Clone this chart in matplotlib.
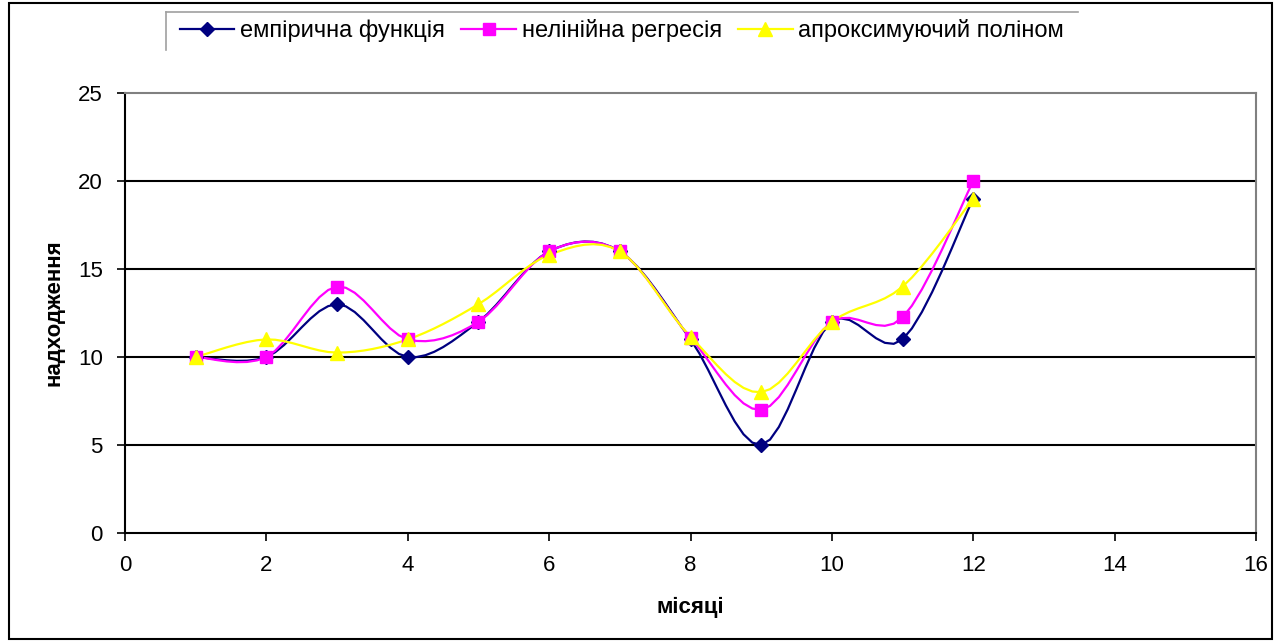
import matplotlib.pyplot as plt
import numpy as np
from matplotlib.lines import Line2D
from matplotlib.patches import Rectangle

plt.rcParams['font.family'] = ['Liberation Sans', 'DejaVu Sans']

# місяці та три ряди даних
months = [1, 2, 3, 4, 5, 6, 7, 8, 9, 10, 11, 12]
empirical = [10, 10, 13, 10, 12, 16, 16, 11, 5, 12, 11, 19]
nonlinear = [10, 10, 14, 11, 12, 16, 16, 11.1, 7, 12, 12.25, 20]
polynomial = [10, 11, 10.25, 11, 13, 15.8, 16, 11.15, 8, 12, 14, 19]

labels = ['емпірична функція', 'нелінійна регресія', 'апроксимуючий поліном']
colors = ['#000080', '#FF00FF', '#FFFF00']
markers = ['D', 's', '^']
msizes = [7, 8, 10]


def smooth(x, y, n=8):
    """згладжена лінія як у Excel (кубічні Безьє з дотичними Катмулла-Рома)"""
    x = np.asarray(x, float); y = np.asarray(y, float)
    px = np.concatenate([[x[0]], x, [x[-1]]])
    py = np.concatenate([[y[0]], y, [y[-1]]])
    t = np.linspace(0, 1, n + 1)[:-1]
    xs, ys = [], []
    for i in range(1, len(px) - 2):
        p0, p3 = np.array([px[i], py[i]]), np.array([px[i + 1], py[i + 1]])
        c1 = p0 + (np.array([px[i + 1], py[i + 1]]) - np.array([px[i - 1], py[i - 1]])) / 6
        c2 = p3 - (np.array([px[i + 2], py[i + 2]]) - np.array([px[i], py[i]])) / 6
        b = ((1 - t) ** 3)[:, None] * p0 + (3 * (1 - t) ** 2 * t)[:, None] * c1 \
            + (3 * (1 - t) * t ** 2)[:, None] * c2 + (t ** 3)[:, None] * p3
        xs.extend(b[:, 0]); ys.extend(b[:, 1])
    xs.append(x[-1]); ys.append(y[-1])
    return np.array(xs), np.array(ys)


fig = plt.figure(figsize=(12.82, 6.41), dpi=100)
ax = fig.add_axes([125 / 1282, 108 / 641, 1131 / 1282, 440 / 641])

handles = []
for ys, c, m, ms, lab in zip([empirical, nonlinear, polynomial], colors, markers, msizes, labels):
    sx, sy = smooth(months, ys)
    ax.plot(sx, sy, color=c, lw=1.6, zorder=3)
    ax.plot(months, ys, ls='none', marker=m, ms=ms, color=c, mec=c, zorder=4)
    handles.append(Line2D([], [], color=c, lw=1.6, marker=m, ms=ms, mec=c))

ax.set_xlim(0, 16)
ax.set_ylim(0, 25)
ax.set_xticks(range(0, 17, 2))
ax.set_yticks(range(0, 26, 5))
for v in [5, 10, 15, 20]:
    ax.axhline(v, color='black', lw=1.5, zorder=1)
ax.tick_params(direction='out', length=6, width=1.2, labelsize=16, colors='black')
ax.tick_params(axis='x', pad=10)
ax.tick_params(axis='y', pad=10)
for side in ['left', 'bottom']:
    ax.spines[side].set_linewidth(1.5)
for side in ['top', 'right']:
    ax.spines[side].set_color('#808080')
    ax.spines[side].set_linewidth(1.5)

ax.set_xlabel('місяці', fontsize=16, fontweight='bold', labelpad=15)
ax.set_ylabel('надходження', fontsize=16, fontweight='bold', labelpad=10)

fig.legend(handles, labels, loc='center', bbox_to_anchor=(622 / 1282, 1 - 31 / 641),
           ncol=3, frameon=False, fontsize=17, handlelength=2.3, columnspacing=0.7,
           handletextpad=0.25)

# рамка легенди (видно лише верх і лівий край) та зовнішня рамка діаграми
fig.add_artist(Line2D([166 / 1282, 1078 / 1282], [1 - 12 / 641] * 2, color='#A0A0A0', lw=1.2))
fig.add_artist(Line2D([166 / 1282] * 2, [1 - 12 / 641, 1 - 50 / 641], color='#A0A0A0', lw=1.2))
fig.add_artist(Rectangle((9 / 1282, 2 / 641), 1263 / 1282, 636 / 641, fill=False,
                         ec='black', lw=1.5, transform=fig.transFigure))

fig.savefig('out.png', dpi=100)
